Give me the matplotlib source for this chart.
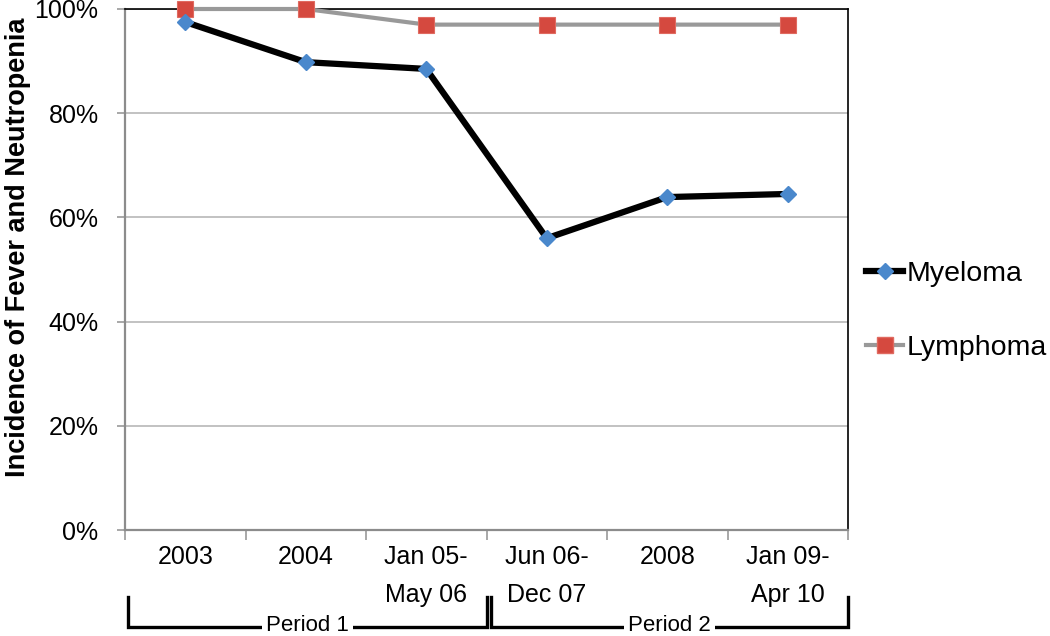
import matplotlib
matplotlib.use("Agg")
import matplotlib.pyplot as plt
from matplotlib.lines import Line2D
from matplotlib.transforms import blended_transform_factory

plt.rcParams['font.family'] = ['Liberation Sans', 'DejaVu Sans']

categories = ["2003", "2004", "Jan 05-\nMay 06", "Jun 06-\nDec 07", "2008", "Jan 09-\nApr 10"]
myeloma = [97.5, 89.8, 88.5, 56.0, 63.9, 64.5]
lymphoma = [100.0, 100.0, 97.0, 97.0, 97.0, 97.0]
yticks = [0, 20, 40, 60, 80, 100]
ytick_labels = ["0%", "20%", "40%", "60%", "80%", "100%"]
periods = ["Period 1", "Period 2"]

BLUE = '#4a88cc'
RED = '#d5493f'
GRAY = '#999999'

fig = plt.figure(figsize=(10.5, 6.36), dpi=100)
ax = fig.add_axes([125/1050, 1-530/636, (848-125)/1050, (530-9)/636])

x = list(range(len(categories)))
ax.plot(x, lymphoma, color=GRAY, lw=3.0, marker='s', ms=11,
        mfc=RED, mec='#e06a60', mew=0.8, zorder=3, clip_on=False)
ax.plot(x, myeloma, color='black', lw=4.5, marker='D', ms=8,
        mfc=BLUE, mec=BLUE, zorder=4, clip_on=False)

ax.set_xlim(-0.5, len(categories)-0.5)
ax.set_ylim(0, 100)
ax.set_yticks(yticks)
ax.set_yticklabels(ytick_labels, fontsize=18)
ax.yaxis.grid(True, color='#b8b8b8', lw=1.2)
ax.set_axisbelow(True)

# x ticks: boundaries as major (marks), categories as minor (labels)
ax.set_xticks([i - 0.5 for i in range(len(categories)+1)])
ax.set_xticklabels([])
ax.set_xticks(x, minor=True)
ax.set_xticklabels(categories, minor=True, fontsize=18, va='top', linespacing=1.7)
ax.tick_params(axis='x', which='major', length=7, color=GRAY, width=1.2, direction='out')
ax.tick_params(axis='x', which='minor', length=0, pad=11)
ax.tick_params(axis='y', length=6, color=GRAY, width=1.2, pad=13)

for s in ['left', 'bottom']:
    ax.spines[s].set_color('#8c8c8c')
    ax.spines[s].set_linewidth(1.6)
for s in ['top', 'right']:
    ax.spines[s].set_color('black')
    ax.spines[s].set_linewidth(1.2)

fig.text(18/1050, 1-247/636, "Incidence of Fever and Neutropenia", rotation=90,
         ha='center', va='center', fontsize=19.5, fontweight='bold')

# period brackets
tr = blended_transform_factory(ax.transData, fig.transFigure)
y_top = 1 - 597/636
y_bot = 1 - 627/636
brackets = [(-0.475, 2.5), (2.54, 5.5)]
for (x0, x1), lab in zip(brackets, periods):
    ax.plot([x0, x0, x1, x1], [y_top, y_bot, y_bot, y_top], color='black', lw=2.4,
            transform=tr, clip_on=False, solid_joinstyle='miter')
    ax.text((x0+x1)/2, y_bot + 0.002, lab, transform=tr, ha='center', va='center',
            fontsize=16, bbox=dict(facecolor='white', edgecolor='none', pad=3))

handles = [Line2D([], [], color='black', lw=4.5, marker='D', ms=8, mfc=BLUE, mec=BLUE),
           Line2D([], [], color=GRAY, lw=3.0, marker='s', ms=11, mfc=RED, mec='#e06a60')]
fig.legend(handles, ["Myeloma", "Lymphoma"], loc='center left',
           bbox_to_anchor=(866/1050, 1-311/636), frameon=False, fontsize=20.5,
           handlelength=1.3, handletextpad=0.12, labelspacing=1.7,
           borderpad=0, borderaxespad=0)

fig.savefig("out.png", dpi=100)
